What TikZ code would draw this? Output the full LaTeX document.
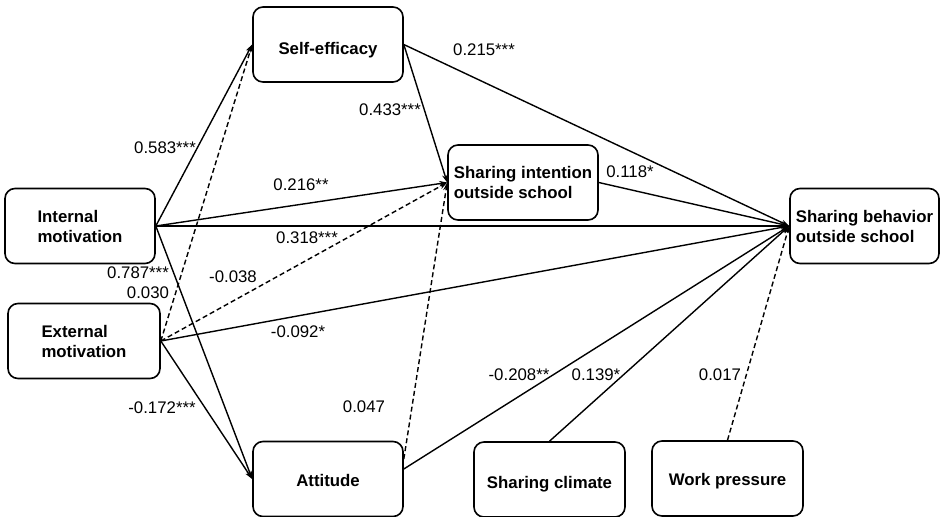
\documentclass[tikz,border=0pt]{standalone}
\usepackage{fontspec}
\setmainfont{Liberation Sans}
\usetikzlibrary{arrows.meta}
\begin{document}
\begin{tikzpicture}[x=1pt,y=-1pt,
  box/.style={draw, line width=1.6pt, rounded corners=10pt, minimum width=150pt, minimum height=75pt, align=left, font=\fontsize{16.8}{20}\selectfont\bfseries, inner sep=0pt},
  one/.style={text height=12pt, text depth=0pt},
  lbl/.style={font=\fontsize{16.8}{20}\selectfont, inner sep=0pt},
  conn/.style={line width=1.4pt, -{Stealth[length=8pt,width=5.5pt]}},
  dconn/.style={conn, dash pattern=on 5pt off 3pt}]
\useasboundingbox (0,0) rectangle (943,517);
\node[box, one] (self) at (328,44.5) {\raisebox{-3.5pt}{Self-efficacy}};
\node[box] (int) at (80,226) {Internal\\motivation};
\node[box, minimum width=152pt] (ext) at (84,341) {External\\motivation};
\node[box, one] (att) at (328,479) {\raisebox{-1pt}{Attitude}};
\node[box] (inten) at (523,182.5) {Sharing intention\\outside school};
\node[box, minimum width=149pt] (beh) at (864.5,226) {Sharing behavior\\outside school};
\node[box, one, minimum width=151pt] (clim) at (549.5,479.5) {\raisebox{-3pt}{Sharing climate}};
\node[box, one, minimum width=151pt] (work) at (727.5,478.5) {\raisebox{-1pt}{Work pressure}};
\coordinate (attA) at ([yshift=20pt]att.east);
\coordinate (attB) at ([yshift=10pt]att.east);
\draw[conn] (int.east) -- (self.west);
\draw[conn] (int.east) -- (inten.west);
\draw[conn] (int.east) -- (beh.west);
\draw[conn] (int.east) -- (att.west);
\draw[dconn] (ext.east) -- (self.west);
\draw[dconn] (ext.east) -- (inten.west);
\draw[conn] (ext.east) -- (beh.west);
\draw[conn] (ext.east) -- (att.west);
\draw[conn] (self.east) -- (inten.west);
\draw[conn] (self.east) -- (beh.west);
\draw[conn] (inten.east) -- (beh.west);
\draw[dconn] (attA) -- (inten.west);
\draw[conn] (attB) -- (beh.west);
\draw[conn] (clim.north) -- (beh.west);
\draw[dconn] (work.north) -- (beh.west);
\node[lbl] (l1) at (484,50) {0.215***};
\node[lbl] (l2) at (390,110) {0.433***};
\node[lbl] (l3) at (165,148) {0.583***};
\node[lbl] (l4) at (301,185) {0.216**};
\node[lbl] (l5) at (307,238) {0.318***};
\node[lbl] (l6) at (138,273) {0.787***};
\node[lbl] (l7) at (148,293) {0.030};
\node[lbl] (l8) at (233,277) {-0.038};
\node[lbl] (l9) at (298,332) {-0.092*};
\node[lbl] (l10) at (162,408) {-0.172***};
\node[lbl] (l11) at (364,407) {0.047};
\node[lbl] (l12) at (519,375) {-0.208**};
\node[lbl] (l13) at (596,375) {0.139*};
\node[lbl] (l14) at (720,375) {0.017};
\node[lbl] (l15) at (630,172) {0.118*};
\end{tikzpicture}
\end{document}
